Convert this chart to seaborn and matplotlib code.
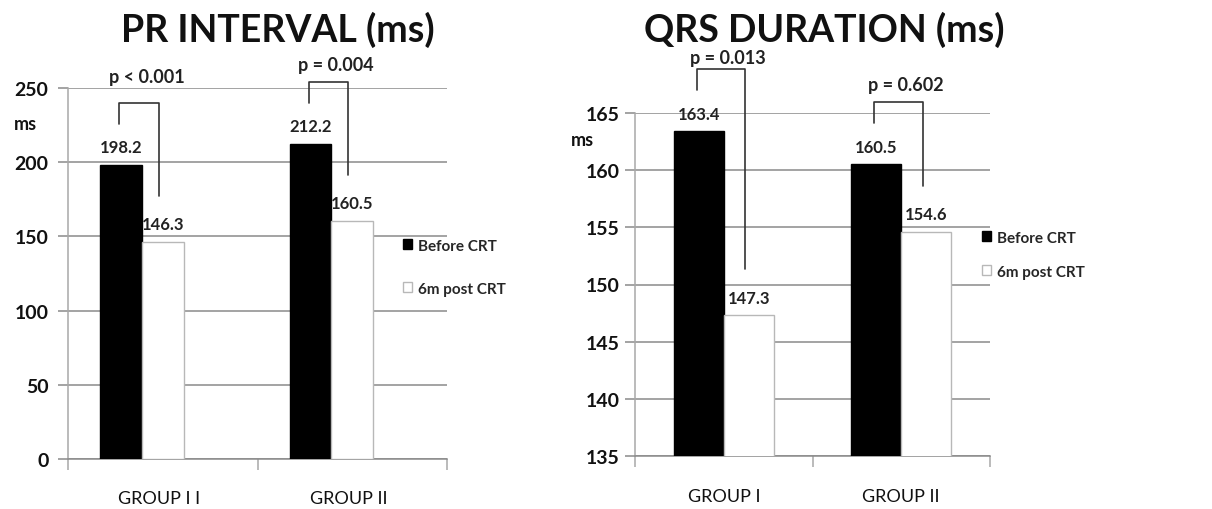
import numpy as np
import pandas as pd
import matplotlib.pyplot as plt
import seaborn as sns
from matplotlib.patches import Patch

# ── Data ─────────────────────────────────────────────────────
periods = ["Before CRT", "6m post CRT"]

pr_groups = ["GROUP I I", "GROUP II"]
pr_before = [198.2, 212.2]
pr_after = [146.3, 160.5]
pr_pvalues = ["p < 0.001", "p = 0.004"]
pr_ticks = [0, 50, 100, 150, 200, 250]

qrs_groups = ["GROUP I", "GROUP II"]
qrs_before = [163.4, 160.5]
qrs_after = [147.3, 154.6]
qrs_pvalues = ["p = 0.013", "p = 0.602"]
qrs_ticks = [135, 140, 145, 150, 155, 160, 165]

# ── Style ────────────────────────────────────────────────────
sns.set_theme(style="white")
plt.rcParams["font.family"] = ["Lato", "DejaVu Sans"]

GRID = "#8a8a8a"
AXIS = "#a8a8a8"
EDGE = "#b8b8b8"
W, H = 1212, 510

fig = plt.figure(figsize=(W / 100, H / 100), dpi=100)


def make_df(groups, before, after):
    return pd.DataFrame({
        "group": groups * 2,
        "period": [periods[0]] * len(groups) + [periods[1]] * len(groups),
        "value": list(before) + list(after),
    })


def panel(rect, groups, before, after, pvals, ticks, width, x0,
          lab_shift, ypad, xpad, leg_xy, leg_space, p_off):
    ax = fig.add_axes(rect)
    df = make_df(groups, before, after)
    sns.barplot(data=df, x="group", y="value", hue="period",
                hue_order=periods, order=groups,
                palette={periods[0]: "black", periods[1]: "white"},
                width=width, gap=0, legend=False, ax=ax, zorder=3)
    for bar, ec in zip(ax.patches, ["black"] * len(groups) + [EDGE] * len(groups)):
        bar.set_edgecolor(ec)
        bar.set_linewidth(1.0)

    n = len(groups)
    ax.set_ylim(ticks[0], ticks[-1])
    ax.set_xlim(x0, x0 + n)
    ax.set_yticks(ticks)
    ax.set_yticklabels([str(t) for t in ticks], fontsize=14, fontweight="bold",
                       color="#111111")
    ax.yaxis.grid(True, color=GRID, lw=1.1, zorder=0)
    ax.set_axisbelow(True)
    ax.tick_params(axis="y", length=7, color=GRID, width=1.1, pad=ypad, left=True)

    centers = np.arange(n) + lab_shift
    ax.set_xticks(centers)
    ax.set_xticklabels(groups, fontsize=13, color="#111111")
    ax.set_xticks(np.arange(n + 1) + x0, minor=True)
    ax.tick_params(axis="x", which="major", length=0, pad=xpad)
    ax.tick_params(axis="x", which="minor", length=8, color=AXIS, width=1.1,
                   bottom=True, direction="out")
    ax.set_xlabel("")
    ax.set_ylabel("")

    for s in ["top", "right"]:
        ax.spines[s].set_visible(False)
    ax.spines["left"].set_color(AXIS)
    ax.spines["bottom"].set_color(GRID)
    ax.spines["left"].set_linewidth(1.1)
    ax.spines["bottom"].set_linewidth(1.1)

    # value labels
    for cont in ax.containers:
        ax.bar_label(cont, fmt="%.1f", padding=7, fontsize=12,
                     fontweight="bold", color="#222222", zorder=5)

    # p-value brackets (offsets in pixels -> data units)
    span = ticks[-1] - ticks[0]
    px = span / (rect[3] * H)
    hw = width / 2
    for i, (b, a, p, po) in enumerate(zip(before, after, pvals, p_off)):
        xl = i - hw / 2 - 0.01
        xr = i + hw / 2 - 0.02
        top = b + 62 * px
        ax.plot([xl, xl, xr, xr], [b + 41 * px, top, top, a + 46 * px],
                color="#333333", lw=1.2, clip_on=False, zorder=6)
        ax.text((xl + xr) / 2 + 0.04, top + po * px, p, ha="center",
                va="center", fontsize=13, fontweight="bold",
                color="#222222", clip_on=False)

    ax.legend(handles=[Patch(fc="black", ec="black"), Patch(fc="white", ec=EDGE)],
              labels=periods, loc="center left", bbox_to_anchor=leg_xy,
              frameon=False, handlelength=0.6, handleheight=0.6,
              handletextpad=0.4, labelspacing=leg_space, borderpad=0,
              borderaxespad=0, prop={"size": 11, "weight": "bold"})
    return ax


# left panel: PR interval
ax1 = panel([68 / W, 1 - 460 / H, 379 / W, 371 / H],
            pr_groups, pr_before, pr_after, pr_pvalues, pr_ticks,
            width=0.44, x0=-0.39, lab_shift=0.09, ypad=7, xpad=22,
            leg_xy=(0.884, 0.517), leg_space=1.9, p_off=[26, 18])

# right panel: QRS duration
ax2 = panel([635 / W, 1 - 457 / H, 355 / W, 343 / H],
            qrs_groups, qrs_before, qrs_after, qrs_pvalues, qrs_ticks,
            width=0.565, x0=-0.5, lab_shift=0.0, ypad=4, xpad=23,
            leg_xy=(0.977, 0.587), leg_space=1.3, p_off=[12, 18])

title_font = ["Liberation Sans Narrow", "Lato", "DejaVu Sans"]
fig.text(278 / W, 1 - 30 / H, "PR INTERVAL (ms)", ha="center", va="center",
         fontsize=27, fontweight="bold", color="#111111", family=title_font)
fig.text(824 / W, 1 - 30 / H, "QRS DURATION (ms)", ha="center", va="center",
         fontsize=27, fontweight="bold", color="#111111", family=title_font)
fig.text(25 / W, 1 - 125 / H, "ms", ha="center", va="center",
         fontsize=13, fontweight="bold", color="#111111")
fig.text(582 / W, 1 - 140 / H, "ms", ha="center", va="center",
         fontsize=13, fontweight="bold", color="#111111")

fig.savefig("out.png", dpi=100)
